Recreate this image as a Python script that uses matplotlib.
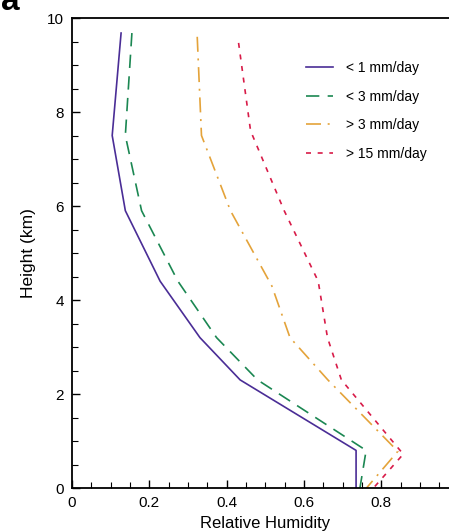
import numpy as np
import matplotlib
matplotlib.use("Agg")
from matplotlib import pyplot as plt
from matplotlib.ticker import MultipleLocator

plt.rcParams['font.family'] = ['Liberation Sans', 'DejaVu Sans']

# heights (km) of profile levels
height = [9.68, 7.5, 5.9, 4.4, 3.2, 2.3, 0.8, 0.0]

rh_lt1 = [0.127, 0.104, 0.138, 0.228, 0.331, 0.435, 0.735, 0.735]
rh_lt3 = [0.155, 0.138, 0.180, 0.274, 0.374, 0.480, 0.761, 0.745]
rh_gt3 = [0.324, 0.335, 0.410, 0.517, 0.564, 0.662, 0.843, 0.762]
rh_gt15 = [0.431, 0.462, 0.549, 0.637, 0.661, 0.697, 0.857, 0.780]
height_gt3 = [9.6, 7.5, 5.9, 4.3, 3.2, 2.3, 0.78, 0.0]
height_gt15 = [9.47, 7.6, 5.9, 4.4, 3.2, 2.3, 0.72, 0.0]

labels = ["< 1 mm/day", "< 3 mm/day", "> 3 mm/day", "> 15 mm/day"]

W, H = 449, 532
fig = plt.figure(figsize=(W / 100, H / 100), dpi=100)
# axes extends past right edge of the figure (cropped original)
ax = fig.add_axes([72 / W, 1 - 488 / H, 386.5 / W, 470 / H])

ax.plot(rh_lt1, height, color='#4a2d96', lw=1.2, ls='-', label=labels[0])
ax.plot(rh_lt3, height, color='#1b8752', lw=1.2, ls=(0, (8, 5)), label=labels[1])
ax.plot(rh_gt3, height_gt3, color='#e4a33a', lw=1.2, ls=(0, (9, 4, 1.2, 4)), label=labels[2])
ax.plot(rh_gt15, height_gt15, color='#d81b48', lw=1.2, ls=(0, (3, 4)), label=labels[3])

ax.set_xlim(0, 1)
ax.set_ylim(0, 10)
ax.xaxis.set_major_locator(MultipleLocator(0.2))
ax.xaxis.set_minor_locator(MultipleLocator(0.05))
ax.yaxis.set_major_locator(MultipleLocator(2))
ax.yaxis.set_minor_locator(MultipleLocator(0.5))
ax.set_xticks([0, 0.2, 0.4, 0.6, 0.8])
ax.set_xticklabels(["0", "0.2", "0.4", "0.6", "0.8"])
ax.tick_params(which='both', direction='in', labelsize=11)
ax.tick_params(which='major', length=6, width=1)
ax.tick_params(which='minor', length=4, width=0.8)
ax.tick_params(axis='x', pad=6)
ax.tick_params(axis='y', pad=6)
for s in ax.spines.values():
    s.set_linewidth(1.3)

ax.set_xlabel("Relative Humidity", fontsize=12, labelpad=4)
ax.set_ylabel("Height (km)", fontsize=12.5, labelpad=8)

ax.legend(loc='upper left', bbox_to_anchor=(0.572, 0.935), frameon=False,
          fontsize=10, handlelength=2.0, handletextpad=0.9, labelspacing=1.05)

fig.text(1 / W, 1 - 10 / H, "a", fontsize=24, fontweight='bold', va='baseline', ha='left')

fig.savefig("out.png", dpi=100)
